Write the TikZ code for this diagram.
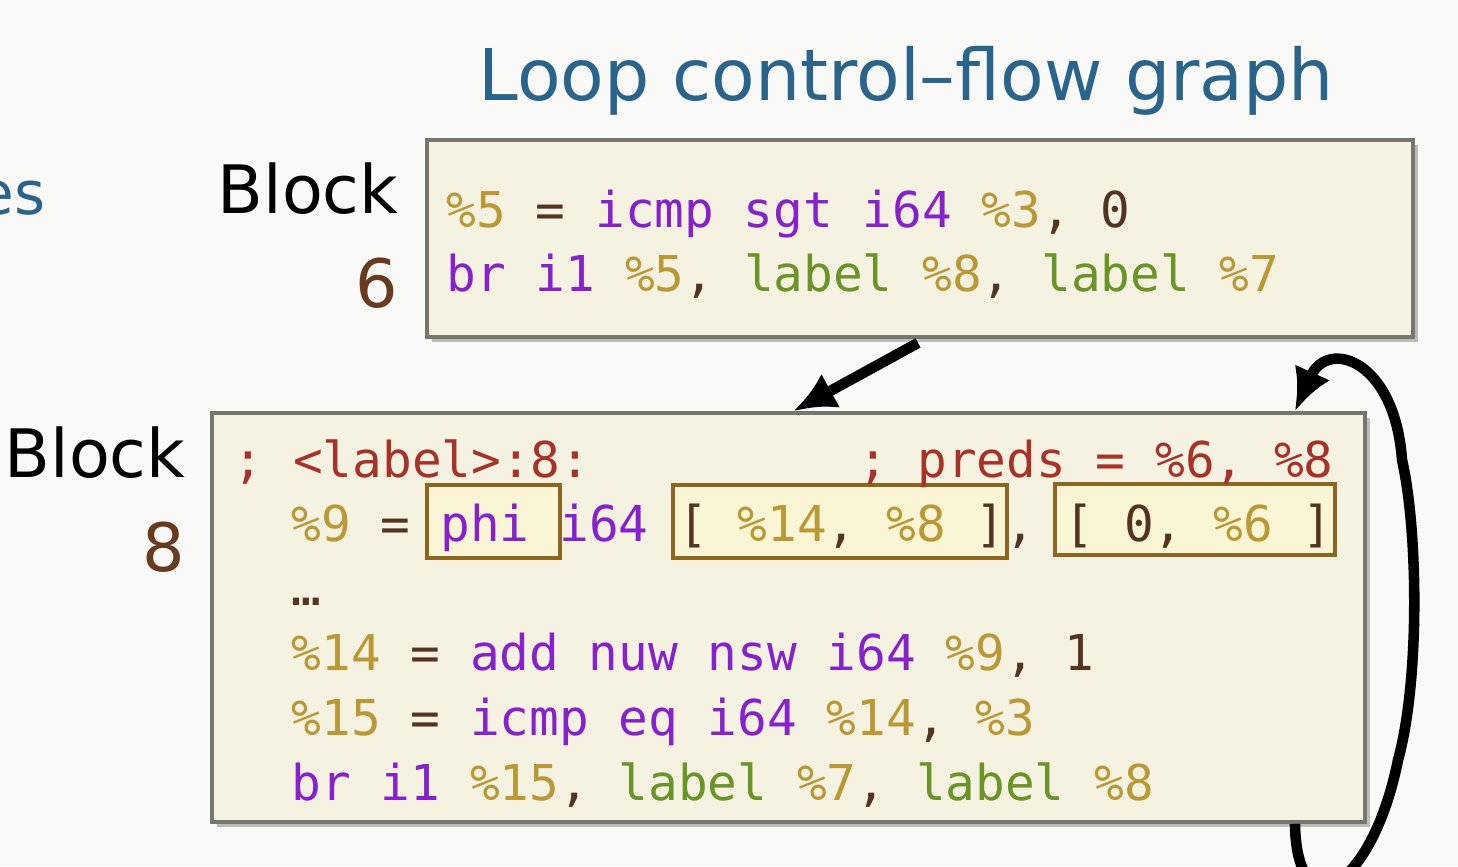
\documentclass[tikz,border=0pt]{standalone}
\usepackage{fontspec}
\setmainfont{DejaVu Sans}
\setmonofont{DejaVu Sans Mono}
\usetikzlibrary{arrows.meta, positioning, shadows}
\definecolor{slideWhite}{RGB}{249,249,247}
\definecolor{titleBlue}{RGB}{42,100,140}
\definecolor{tagBrown}{RGB}{104,58,30}
\definecolor{blockFill}{RGB}{245,242,225}
\definecolor{blockEdge}{RGB}{118,118,108}
\definecolor{hlFill}{RGB}{250,245,212}
\definecolor{hlEdge}{RGB}{140,102,32}
\definecolor{irVar}{RGB}{186,152,52}
\definecolor{irKw}{RGB}{135,32,205}
\definecolor{irLbl}{RGB}{106,148,38}
\definecolor{irPun}{RGB}{82,52,32}
\definecolor{irCmt}{RGB}{168,50,40}
\newcommand{\codefont}{\ttfamily\fontsize{14.05}{18.5}\selectfont}
\newcommand{\irvar}[1]{\textcolor{irVar}{#1}}
\newcommand{\irkw}[1]{\textcolor{irKw}{#1}}
\newcommand{\irlbl}[1]{\textcolor{irLbl}{#1}}
\newcommand{\irpun}[1]{\textcolor{irPun}{#1}}
\newcommand{\ircmt}[1]{\textcolor{irCmt}{#1}}
\tikzset{
    irblock/.style={
        rectangle,
        draw=blockEdge,
        line width=1.1pt,
        fill=blockFill,
        inner sep=0pt,
        drop shadow={shadow xshift=0.05cm, shadow yshift=-0.05cm, fill=black!55, opacity=0.45}
    },
    hlbox/.style={
        rectangle,
        draw=hlEdge,
        line width=0.9pt,
        fill=hlFill,
        inner sep=0pt,
        minimum height=0.73cm
    },
    codeline/.style={anchor=base west, inner sep=0pt, font=\codefont},
    blocktag/.style={anchor=base east, inner sep=0pt, font=\fontsize{19}{23}\selectfont},
    flowarrow/.style={-{Latex[length=12pt, width=11pt]}, line width=3pt, draw=black}
}

\begin{document}
\begin{tikzpicture}
    \useasboundingbox[fill=slideWhite] (0,0) rectangle (14.58,-8.66);
    % headings
    \node[anchor=base west, inner sep=0pt, text=titleBlue, font=\fontsize{20.3}{24}\selectfont] (title) at (4.78,-1.00) {Loop control–flow graph};
    \node[anchor=base east, inner sep=0pt, text=titleBlue, font=\fontsize{17}{20}\selectfont] (cutword) at (0.46,-2.14) {es};
    % block 6
    \node[irblock, minimum width=9.86cm, minimum height=1.97cm] (block6) at (9.20,-2.385) {};
    \node[blocktag] (tag6) at (3.99,-2.13) {Block};
    \node[blocktag, text=tagBrown] (num6) at (3.99,-3.07) {6};
    \node[codeline] (b6l1) at (4.46,-2.27) {\irvar{\%5} \irpun{=} \irkw{icmp sgt i64} \irvar{\%3}\irpun{, 0}};
    \node[codeline] (b6l2) at (4.46,-2.91) {\irkw{br i1} \irvar{\%5}\irpun{,} \irlbl{label} \irvar{\%8}\irpun{,} \irlbl{label} \irvar{\%7}};
    % block 8
    \node[irblock, minimum width=11.53cm, minimum height=4.09cm] (block8) at (7.885,-6.175) {};
    \node[blocktag] (tag8) at (1.86,-4.77) {Block};
    \node[blocktag, text=tagBrown] (num8) at (1.86,-5.71) {8};
    \node[hlbox, minimum width=1.33cm] (hlphi) at (4.935,-5.215) {};
    \node[hlbox, minimum width=3.34cm] (hlfirst) at (8.40,-5.215) {};
    \node[hlbox, minimum width=2.80cm, minimum height=0.71cm] (hlsecond) at (11.95,-5.195) {};
    \node[codeline] (b8l1) at (2.33,-4.77) {\ircmt{; <label>:8:~~~~~~~~~; preds = \%6, \%8}};
    \node[codeline] (b8l2) at (2.91,-5.41) {\irvar{\%9} \irpun{=} \irkw{phi} \irkw{i64} \irpun{[} \irvar{\%14}\irpun{,} \irvar{\%8} \irpun{]}\irpun{,} \irpun{[} \irpun{0}\irpun{,} \irvar{\%6} \irpun{]}};
    \node[codeline] (b8l3) at (2.91,-6.05) {\irpun{…}};
    \node[codeline] (b8l4) at (2.91,-6.70) {\irvar{\%14} \irpun{=} \irkw{add nuw nsw i64} \irvar{\%9}\irpun{, 1}};
    \node[codeline] (b8l5) at (2.91,-7.35) {\irvar{\%15} \irpun{=} \irkw{icmp eq i64} \irvar{\%14}\irpun{,} \irvar{\%3}};
    \node[codeline] (b8l6) at (2.91,-8.00) {\irkw{br i1} \irvar{\%15}\irpun{,} \irlbl{label} \irvar{\%7}\irpun{,} \irlbl{label} \irvar{\%8}};
    % edges
    \draw[flowarrow] ([xshift=-0.02cm, yshift=-0.04cm]block6.south) -- ([xshift=0.05cm]block8.north);
    \draw[flowarrow] ([xshift=-0.72cm]block8.south east)
        .. controls +(0.02,-1.08) and (13.72,-8.9) .. (13.98,-7.6)
        .. controls (14.20,-6.8) and (14.18,-5.3) .. (14.02,-4.6)
        .. controls (13.95,-3.60) and (13.28,-3.38) .. ([xshift=-0.72cm]block8.north east);
\end{tikzpicture}
\end{document}
